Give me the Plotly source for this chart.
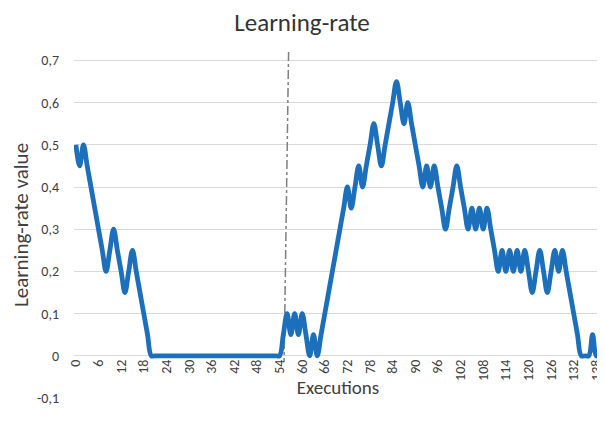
import plotly.graph_objects as go

# learning-rate value per execution (index = execution number)
LEARNING_RATE = [
    0.5, 0.45, 0.5, 0.45, 0.4, 0.35, 0.3, 0.25, 0.2, 0.25,
    0.3, 0.25, 0.2, 0.15, 0.2, 0.25, 0.2, 0.15, 0.1, 0.05,
    0, 0, 0, 0, 0, 0, 0, 0, 0, 0,
    0, 0, 0, 0, 0, 0, 0, 0, 0, 0,
    0, 0, 0, 0, 0, 0, 0, 0, 0, 0,
    0, 0, 0, 0, 0, 0.05, 0.1, 0.05, 0.1, 0.05,
    0.1, 0.05, 0, 0.05, 0, 0.05, 0.1, 0.15, 0.2, 0.25,
    0.3, 0.35, 0.4, 0.35, 0.4, 0.45, 0.4, 0.45, 0.5, 0.55,
    0.5, 0.45, 0.5, 0.55, 0.6, 0.65, 0.6, 0.55, 0.6, 0.55,
    0.5, 0.45, 0.4, 0.45, 0.4, 0.45, 0.4, 0.35, 0.3, 0.35,
    0.4, 0.45, 0.4, 0.35, 0.3, 0.35, 0.3, 0.35, 0.3, 0.35,
    0.3, 0.25, 0.2, 0.25, 0.2, 0.25, 0.2, 0.25, 0.2, 0.25,
    0.2, 0.15, 0.2, 0.25, 0.2, 0.15, 0.2, 0.25, 0.2, 0.25,
    0.2, 0.15, 0.1, 0.05, 0, 0, 0, 0.05, 0, 0,
]
EXECUTIONS = list(range(len(LEARNING_RATE)))

# slanted dash-dot marker line
MARK_X = [56.4, 55.2]
MARK_Y = [0.72, -0.015]

X_TICKS = list(range(0, 139, 6))
Y_TICKS = [-0.1, 0, 0.1, 0.2, 0.3, 0.4, 0.5, 0.6, 0.7]
Y_LABELS = ["-0,1", "0", "0,1", "0,2", "0,3", "0,4", "0,5", "0,6", "0,7"]

FONT = "Carlito, Calibri, Lato, sans-serif"

fig = go.Figure()
fig.add_trace(go.Scatter(
    x=MARK_X, y=MARK_Y, mode="lines",
    line=dict(color="#7f7f7f", width=1.5, dash="dashdot"),
    hoverinfo="skip", showlegend=False,
))
fig.add_trace(go.Scatter(
    x=EXECUTIONS, y=LEARNING_RATE, mode="lines",
    line=dict(color="#1b6fbb", width=4.8, shape="spline", smoothing=1),
    showlegend=False,
))

# the page body adds an 8px offset, so the figure is 8px smaller than the window
fig.update_layout(
    width=597, height=413,
    margin=dict(l=66, r=3, t=44, b=23, autoexpand=False),
    paper_bgcolor="white", plot_bgcolor="white",
    font=dict(family=FONT, color="#404040", size=14),
    title=dict(text="Learning-rate", x=294 / 597, xanchor="center",
               y=1 - 14 / 413, yanchor="middle", yref="container",
               automargin=False, font=dict(size=25, color="#333333")),
    xaxis=dict(
        range=[-0.5, 139.5], tickvals=X_TICKS, tickangle=-90,
        showgrid=False, zeroline=False, showline=False, ticks="",
        anchor="free", position=0.1 / 0.82, automargin=False,
        title=dict(text="Executions", font=dict(size=19), standoff=0),
        tickfont=dict(size=14),
    ),
    yaxis=dict(
        range=[-0.1, 0.72], tickvals=Y_TICKS, ticktext=Y_LABELS,
        showgrid=True, gridcolor="#d9d9d9", gridwidth=1,
        zeroline=False, showline=False, ticks="", automargin=False,
        ticklabelstandoff=14,
        title=dict(text="Learning-rate value", font=dict(size=21), standoff=9),
        tickfont=dict(size=14),
    ),
)

fig.write_html("out.html")
